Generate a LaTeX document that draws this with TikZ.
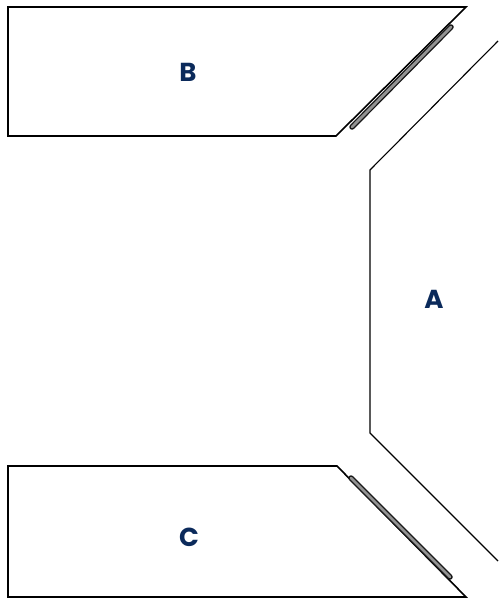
\documentclass[tikz,border=0pt]{standalone}
\usepackage{fontspec}
\setmainfont{Poppins}
\usetikzlibrary{positioning}
\definecolor{navy}{HTML}{0B2A5B}

\begin{document}
\begin{tikzpicture}[x=1pt, y=-1pt, line join=miter]
    \tikzset{
        wall/.style={draw=black, line width=1.6pt},
        edge/.style={draw=black, line width=1.1pt},
        stripout/.style={draw=black!90, line width=5.5pt, line cap=round},
        stripin/.style={draw=gray!85, line width=2.8pt, line cap=round},
        tag/.style={text=navy, font=\fontsize{26}{30}\selectfont\bfseries}
    }
    \useasboundingbox (0,0) rectangle (498,599);

    % Block B (top)
    \draw [wall] (8,7) -- (466,7) -- (336,136) -- (8,136) -- cycle;
    \coordinate (b1) at (352,127);
    \coordinate (b2) at (451,27);
    \draw [stripout] (b1) -- (b2);
    \draw [stripin] (b1) -- (b2);

    % Block C (bottom)
    \draw [wall] (8,466) -- (337,466) -- (466,597) -- (8,597) -- cycle;
    \coordinate (c1) at (351,478);
    \coordinate (c2) at (450,577);
    \draw [stripout] (c1) -- (c2);
    \draw [stripin] (c1) -- (c2);

    % Block A (right, open outline)
    \draw [edge] (498,41) -- (370,170) -- (370,433) -- (498,561);

    % Labels
    \node [tag] (labB) at (188,72) {B};
    \node [tag] (labA) at (434,299) {A};
    \node [tag] (labC) at (189,537) {C};
\end{tikzpicture}
\end{document}
